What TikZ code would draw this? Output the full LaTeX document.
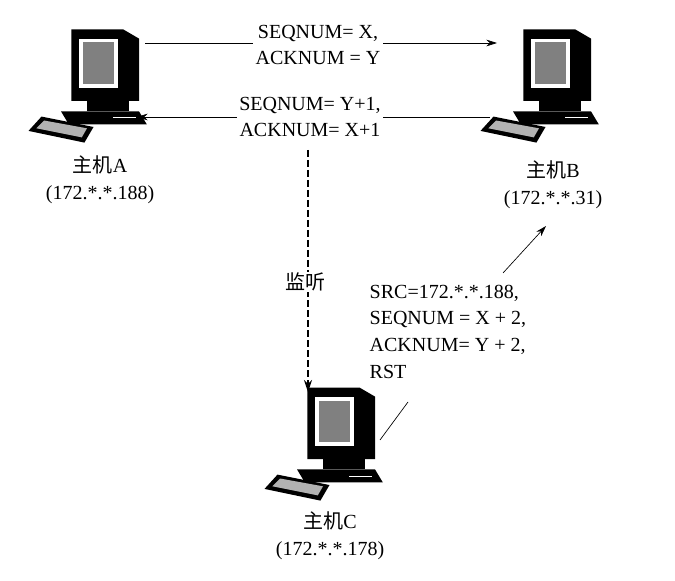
\documentclass[tikz,border=0pt]{standalone}
\usepackage{fontspec}
\setmainfont{Liberation Serif}
\newfontfamily\cjk{Noto Sans CJK SC}
\usetikzlibrary{arrows.meta}
\begin{document}
\begin{tikzpicture}[x=0.75pt,y=-0.75pt,
  lbl/.style={font=\fontsize{15}{20}\selectfont,align=center},
  arr/.style={-{Stealth[length=8pt,width=5pt]},line width=0.5pt},
  pc/.pic={
    \begin{scope}[scale=1.3]
    \fill[black] (-22,-45) -- (18,-45) -- (30,-38) -- (30,10) -- (-22,10) -- cycle;
    \fill[white] (-16,-38) rectangle (14,0);
    \fill[gray] (-13,-35) rectangle (11,-3);
    \fill[black] (-10,10) rectangle (22,18);
    \fill[black] (-30,18) -- (30,18) -- (36,28) -- (-24,28) -- cycle;
    \draw[white,line width=0.6pt] (10,23) -- (28,23);
    \fill[black] (-45,22) -- (-5,30) -- (-12,42) -- (-55,33) -- cycle;
    \fill[white!70!black] (-43,25) -- (-10,31) -- (-14,38) -- (-49,31) -- cycle;
    \end{scope}
  }]
\useasboundingbox (0,0) rectangle (675,581);
\fill[white] (0,0) rectangle (675,581);
\pic at (100,88) {pc};
\pic at (552,88) {pc};
\pic at (336,446) {pc};
\coordinate (a1) at (145,43); \coordinate (b1) at (497,43);
\coordinate (b2) at (490,117); \coordinate (a2) at (137,117);
\draw[arr] (a1) -- (b1);
\draw[arr] (b2) -- (a2);
\node[lbl,fill=white,inner sep=2pt] (t1) at (318,45) {SEQNUM= X,\\ACKNUM = Y};
\node[lbl,fill=white,inner sep=2pt] (t2) at (310,117) {SEQNUM= Y+1,\\ACKNUM= X+1};
\node[lbl] (la) at (100,180) {{\cjk 主机}A\\(172.*.*.188)};
\node[lbl] (lb) at (553,185) {{\cjk 主机}B\\(172.*.*.31)};
\node[lbl] (lc) at (330,536) {{\cjk 主机}C\\(172.*.*.178)};
\coordinate (d1) at (308,150); \coordinate (d2) at (308,392);
\draw[-{Stealth[length=9pt,width=6pt]},dash pattern=on 5pt off 2.5pt,line width=1.6pt] (d1) -- (d2);
\node[lbl,fill=white,inner sep=1pt] (ls) at (305,282) {\cjk 监听};
\node[lbl,align=left,anchor=north west] (t3) at (365,280) {SRC=172.*.*.188,\\SEQNUM = X + 2,\\ACKNUM= Y + 2,\\RST};
\coordinate (r1) at (503,273); \coordinate (r2) at (546,226);
\draw[arr] (r1) -- (r2);
\coordinate (c1) at (380,440); \coordinate (c2) at (408,402);
\draw[line width=0.5pt] (c1) -- (c2);
\end{tikzpicture}
\end{document}
